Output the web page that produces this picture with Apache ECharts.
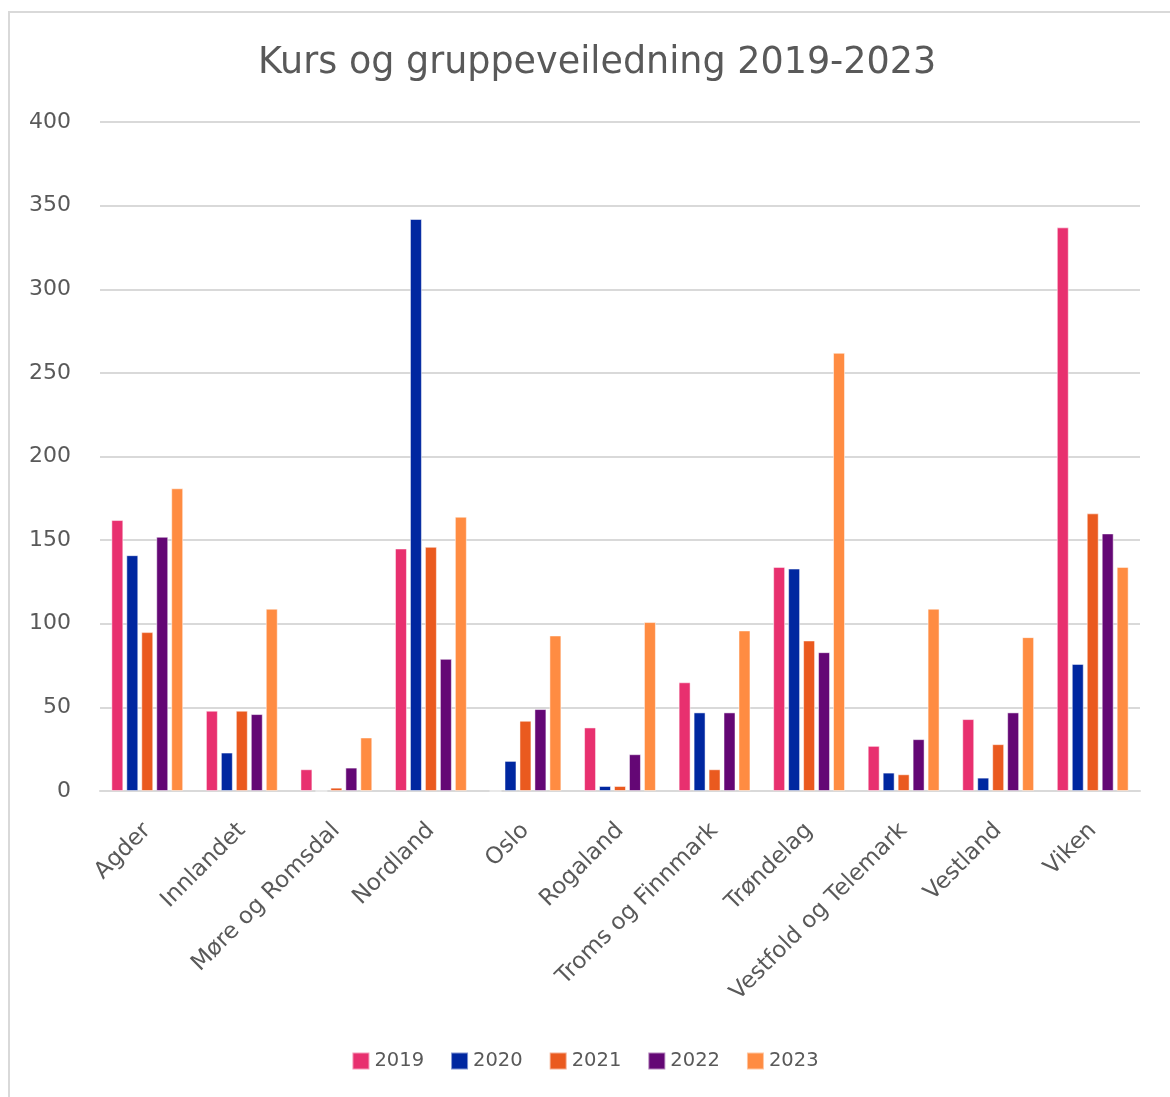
<!DOCTYPE html>
<html>
<head>
<meta charset="utf-8">
<script src="https://cdn.jsdelivr.net/npm/echarts@6/dist/echarts.min.js"></script>
<style>
  html, body { margin: 0; padding: 0; background: #fff; overflow: hidden; }
  #frame { position: absolute; left: 8px; top: 11px; width: 1300px; height: 1300px; border-left: 2px solid #d9d9d9; border-top: 2px solid #d9d9d9; }
  #chart { position: absolute; left: 0; top: 0; width: 1170px; height: 1097px; }
</style>
</head>
<body>
<div id="frame"></div>
<div id="chart"></div>
<script>
const categories = ['Agder', 'Innlandet', 'Møre og Romsdal', 'Nordland', 'Oslo', 'Rogaland',
  'Troms og Finnmark', 'Trøndelag', 'Vestfold og Telemark', 'Vestland', 'Viken'];
const years = ['2019', '2020', '2021', '2022', '2023'];
const v2019 = [162, 48, 13, 145, 0, 38, 65, 134, 27, 43, 337];
const v2020 = [141, 23, 0, 342, 18, 3, 47, 133, 11, 8, 76];
const v2021 = [95, 48, 2, 146, 42, 3, 13, 90, 10, 28, 166];
const v2022 = [152, 46, 14, 79, 49, 22, 47, 83, 31, 47, 154];
const v2023 = [181, 109, 32, 164, 93, 101, 96, 262, 109, 92, 134];
const yTicks = [0, 50, 100, 150, 200, 250, 300, 350, 400];

const colors = ['#e8306f', '#0027a0', '#ea5a1f', '#640775', '#ff8c42'];
const values = [v2019, v2020, v2021, v2022, v2023];
const font = '"DejaVu Sans", sans-serif';

const myechart = echarts.init(document.getElementById('chart'));
const option = {
  animation: false,
  color: colors,
  title: {
    text: 'Kurs og gruppeveiledning 2019-2023',
    left: 253,
    top: 40,
    textStyle: { fontFamily: font, fontSize: 36.5, fontWeight: 'normal', color: '#595959' },
  },
  legend: {
    data: years,
    bottom: 21,
    left: 'center',
    itemWidth: 17,
    itemHeight: 17,
    itemGap: 26,
    icon: 'rect',
    textStyle: { fontFamily: font, fontSize: 19.5, color: '#595959' },
  },
  grid: {
    left: 100,
    right: 30,
    top: 122,
    bottom: 306,
  },
  xAxis: {
    type: 'category',
    data: categories,
    axisTick: { show: false },
    axisLine: { lineStyle: { color: '#d9d9d9', width: 2 } },
    axisLabel: {
      rotate: 45,
      interval: 0,
      margin: 36,
      fontFamily: font,
      fontSize: 23,
      color: '#595959',
    },
  },
  yAxis: {
    type: 'value',
    min: yTicks[0],
    max: yTicks[yTicks.length - 1],
    interval: 50,
    axisLine: { show: false },
    axisTick: { show: false },
    axisLabel: { fontFamily: font, fontSize: 22, color: '#595959', margin: 29 },
    splitLine: { lineStyle: { color: '#d9d9d9', width: 2 } },
  },
  series: years.map((y, i) => ({
    name: y,
    type: 'bar',
    data: values[i],
    barGap: '25%',
    barCategoryGap: '24%',
    itemStyle: { color: colors[i], borderColor: 'rgba(255,255,255,0.5)', borderWidth: 1 },
  })),
};
myechart.setOption(option);
</script>
</body>
</html>
